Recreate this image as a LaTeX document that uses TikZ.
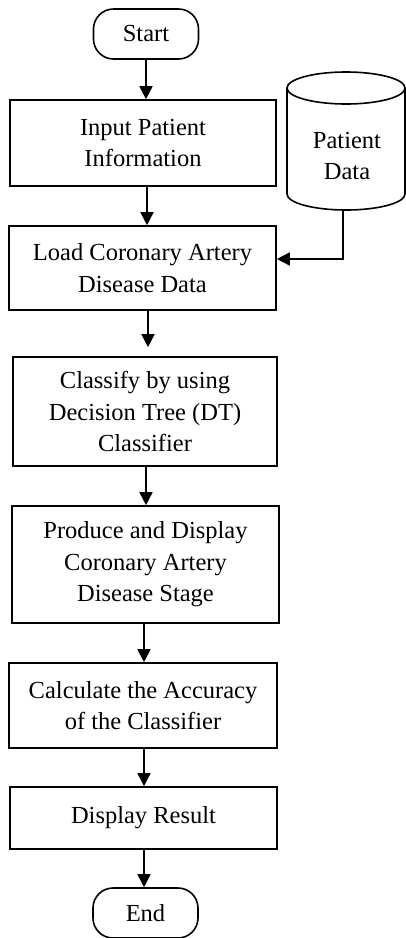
\documentclass[tikz,border=0pt]{standalone}
\usepackage{fontspec}
\setmainfont{Liberation Serif}
\usetikzlibrary{arrows.meta}
\begin{document}
\begin{tikzpicture}[x=1pt,y=-1pt,
  every node/.style={font=\fontsize{24.5}{31.5}\selectfont, align=center, inner sep=0pt},
  proc/.style={draw, line width=1.6pt, minimum width=#1},
  term/.style={draw, line width=1.6pt, rounded corners=20pt, minimum width=105pt, minimum height=50pt},
  flow/.style={line width=1.6pt, -{Triangle[length=13pt,width=13pt]}}]
\useasboundingbox (0,0) rectangle (406,938);
\node[term] (start) at (146,34) {Start};
\node[proc=266pt, minimum height=86pt] (input) at (143,143) {Input Patient\\Information};
\node[proc=267pt, minimum height=84pt] (load) at (142.5,268) {Load Coronary Artery\\Disease Data};
\node[proc=264pt, minimum height=109pt] (cls) at (145,411.5) {Classify by using\\Decision Tree (DT)\\Classifier};
\node[proc=267pt, minimum height=117pt] (prod) at (145.5,564.5) {Produce and Display\\Coronary Artery\\Disease Stage};
\node[proc=268pt, minimum height=85pt] (calc) at (143,705.5) {Calculate the Accuracy\\of the Classifier};
\node[proc=267pt, minimum height=62pt] (disp) at (143.5,818) {Display Result};
\node[term] (end) at (145.5,913) {End};
% cylinder
\draw[line width=1.6pt] (287,88) -- (287,194) arc[start angle=180,end angle=360,x radius=59pt,y radius=16pt] -- (405,88);
\draw[line width=1.6pt] (346,88) ellipse[x radius=59pt,y radius=16pt];
\node (pd) at (347,156) {Patient\\Data};
\coordinate (pdbot) at (343,210);
% connectors
\draw[flow] (start.south) -- (start.south |- input.north);
\draw[flow] (147,186) coordinate (ia) -- (ia |- load.north);
\draw[flow, shorten >=9pt] (148,310) coordinate (la) -- (la |- cls.north);
\draw[flow] (146,466) coordinate (ca) -- (ca |- prod.north);
\draw[flow] (144,623) coordinate (pa) -- (pa |- calc.north);
\draw[flow] (144,748) coordinate (cc) -- (cc |- disp.north);
\draw[flow] (144,849) coordinate (da) -- (da |- end.north);
\draw[flow] (pdbot) |- (load.east |- 0,259);
\end{tikzpicture}
\end{document}
